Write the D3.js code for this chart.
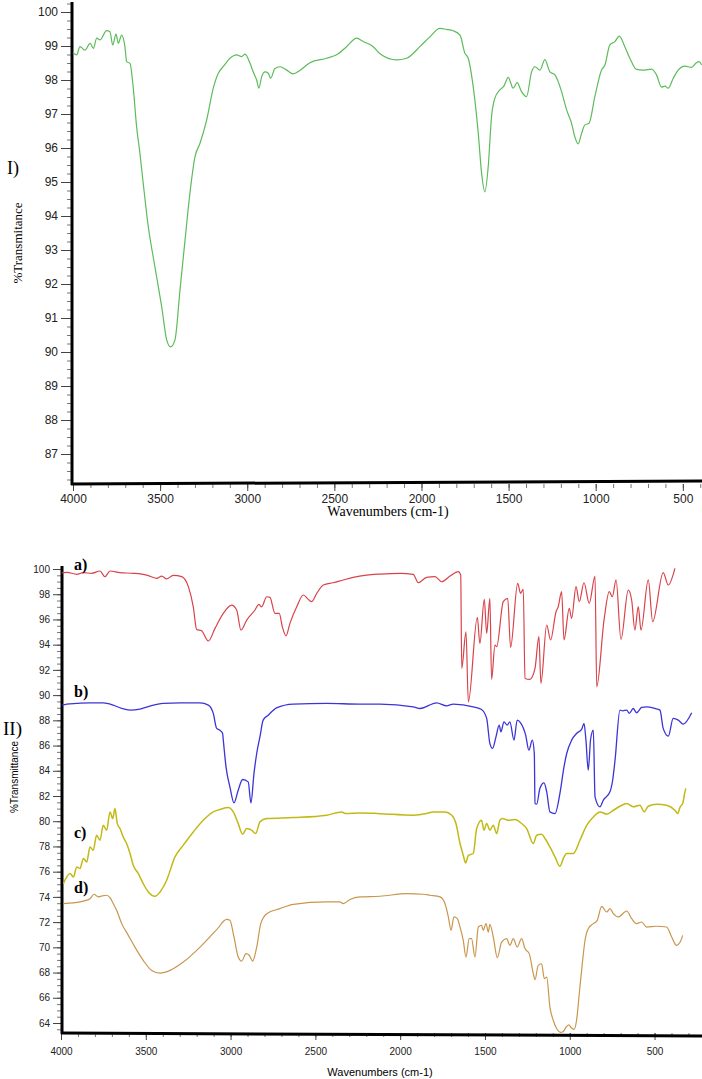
<!DOCTYPE html>
<html>
<head>
<meta charset="utf-8">
<script src="https://cdn.jsdelivr.net/npm/d3@7"></script>
<style>
  body { margin: 0; background: #fff; }
  svg { display: block; }
  .tick text { font-family: "Liberation Sans", Arial, sans-serif; }
</style>
</head>
<body>
<div id="chart"></div>
<script>
// panel I (green spectrum) : [wavenumber, %T]
var specI = [[4000,98.8],[3979,98.74],[3960,98.98],[3931,98.88],[3902,99.08],[3883,98.93],[3864,99.23],[3845,99.18],[3807,99.45],[3788,99.42],[3772,99.03],[3753,99.35],[3740,99.08],[3721,99.32],[3702,98.98],[3692,98.54],[3673,98.49],[3654,97.76],[3635,96.63],[3616,95.85],[3597,94.96],[3568,93.69],[3530,92.51],[3491,91.33],[3462,90.35],[3440,90.15],[3415,90.35],[3386,91.82],[3357,93.29],[3329,94.67],[3300,95.74],[3271,96.14],[3233,96.82],[3195,97.76],[3166,98.2],[3138,98.39],[3099,98.64],[3061,98.74],[3032,98.69],[3013,98.76],[2984,98.49],[2966,98.24],[2946,98.0],[2933,97.76],[2917,98.1],[2898,98.24],[2879,98.2],[2866,98.05],[2841,98.34],[2812,98.39],[2774,98.29],[2736,98.18],[2698,98.28],[2640,98.51],[2544,98.64],[2487,98.74],[2430,98.98],[2372,99.23],[2334,99.13],[2277,98.98],[2238,98.77],[2143,98.59],[2085,98.64],[2009,98.98],[1952,99.27],[1894,99.52],[1856,99.49],[1818,99.45],[1779,99.32],[1751,98.79],[1732,98.64],[1703,97.8],[1674,96.43],[1655,95.26],[1636,94.71],[1617,95.45],[1598,96.92],[1579,97.46],[1550,97.71],[1527,97.82],[1502,98.08],[1474,97.76],[1451,97.92],[1426,97.66],[1397,97.51],[1368,98.24],[1349,98.39],[1320,98.29],[1292,98.6],[1263,98.24],[1234,98.15],[1196,97.66],[1167,97.12],[1139,96.73],[1120,96.33],[1101,96.12],[1081,96.43],[1062,96.68],[1038,96.73],[1005,97.51],[967,98.29],[947,98.44],[919,99.03],[890,99.13],[865,99.29],[833,98.98],[804,98.64],[766,98.31],[728,98.29],[680,98.32],[651,98.15],[622,97.79],[603,97.82],[584,97.76],[555,98.05],[527,98.29],[489,98.41],[450,98.37],[422,98.51],[407,98.54],[391,98.44]];

// panel II spectra
var specA = [[3995,99.7],[3966,99.74],[3907,99.58],[3868,99.71],[3819,99.66],[3770,99.84],[3741,99.39],[3711,99.84],[3652,99.71],[3574,99.66],[3495,99.52],[3436,99.26],[3406,99.44],[3377,99.21],[3338,99.5],[3288,99.39],[3249,98.6],[3220,97.0],[3200,95.21],[3171,95.1],[3131,94.29],[3092,95.29],[3043,96.48],[2994,97.14],[2964,96.75],[2939,95.16],[2905,95.95],[2856,96.75],[2833,97.2],[2817,97.0],[2787,97.8],[2768,97.75],[2738,96.48],[2713,96.48],[2695,95.42],[2673,94.7],[2650,95.69],[2610,97.0],[2571,97.94],[2542,97.59],[2522,97.41],[2492,98.07],[2453,98.73],[2395,98.91],[2336,99.13],[2277,99.34],[2198,99.52],[2119,99.6],[2001,99.66],[1923,99.58],[1893,98.91],[1844,99.34],[1795,99.39],[1755,98.99],[1706,99.44],[1657,99.79],[1643,99.52],[1637,92.12],[1612,95.02],[1598,89.47],[1545,96.16],[1530,94.1],[1504,97.59],[1490,94.9],[1471,97.67],[1461,91.25],[1441,93.97],[1431,93.84],[1392,97.41],[1366,97.67],[1349,93.79],[1307,98.86],[1290,98.07],[1274,98.39],[1264,91.32],[1235,91.25],[1205,92.12],[1182,94.63],[1170,90.93],[1136,95.56],[1113,94.37],[1081,96.61],[1068,97.01],[1048,98.2],[1034,94.37],[1003,96.88],[989,96.09],[963,98.6],[944,97.41],[916,98.91],[885,97.28],[851,99.44],[841,90.66],[798,95.95],[767,98.2],[749,97.8],[727,99.13],[698,94.42],[655,98.33],[635,97.54],[616,95.16],[596,97.01],[580,95.16],[537,99.13],[511,95.82],[449,99.71],[419,98.73],[380,100.05]];

var specB = [[3995,89.2],[3966,89.29],[3907,89.34],[3829,89.39],[3751,89.39],[3692,89.21],[3642,88.94],[3593,88.81],[3534,88.89],[3475,89.13],[3397,89.34],[3298,89.39],[3180,89.39],[3131,89.21],[3102,88.55],[3082,87.36],[3063,87.22],[3047,86.96],[3043,86.43],[3027,84.31],[3004,82.72],[2980,81.45],[2955,82.46],[2929,83.31],[2896,83.12],[2880,81.45],[2862,83.79],[2846,85.37],[2831,86.43],[2827,86.69],[2808,88.02],[2778,88.41],[2729,88.99],[2630,89.29],[2433,89.34],[2237,89.29],[2119,89.29],[1923,89.07],[1883,88.94],[1785,89.39],[1726,89.15],[1687,89.29],[1569,89.07],[1520,88.86],[1490,88.15],[1471,86.17],[1455,85.77],[1435,86.69],[1416,87.62],[1406,87.09],[1388,87.88],[1369,87.62],[1353,87.88],[1329,86.43],[1310,88.02],[1290,87.8],[1260,86.83],[1241,85.63],[1221,86.43],[1209,85.37],[1205,81.4],[1195,81.35],[1176,82.6],[1152,83.04],[1136,82.33],[1117,80.74],[1087,80.61],[1058,82.2],[1034,84.31],[1018,85.37],[989,86.43],[960,86.96],[930,87.28],[916,87.75],[905,86.5],[891,84.05],[877,86.5],[861,87.22],[851,81.93],[822,81.14],[802,81.67],[763,82.33],[747,83.25],[733,84.84],[704,88.81],[688,88.75],[664,88.81],[649,88.55],[626,88.94],[606,88.6],[576,89.02],[547,89.07],[498,88.94],[468,88.81],[449,87.36],[419,86.75],[390,88.15],[360,88.02],[331,87.7],[281,88.6]];

var specC = [[3986,75.05],[3947,75.85],[3927,75.58],[3907,76.37],[3888,76.25],[3868,77.04],[3848,76.77],[3829,77.96],[3810,77.7],[3790,78.89],[3770,78.49],[3751,79.68],[3731,79.29],[3711,80.74],[3695,80.21],[3682,81.0],[3668,79.81],[3652,79.42],[3633,78.75],[3613,78.23],[3593,77.44],[3574,76.51],[3544,75.85],[3515,75.05],[3485,74.39],[3446,74.05],[3416,74.39],[3377,75.32],[3328,77.17],[3279,78.1],[3220,79.15],[3161,80.08],[3102,80.74],[3063,80.93],[3014,81.09],[2984,80.74],[2955,79.81],[2929,78.97],[2905,79.42],[2876,79.29],[2852,79.02],[2827,79.95],[2787,80.21],[2630,80.29],[2433,80.48],[2345,80.74],[2325,80.61],[2237,80.66],[2119,80.6],[1923,80.48],[1844,80.61],[1805,80.74],[1736,80.74],[1696,80.48],[1671,79.82],[1647,78.23],[1628,77.3],[1614,76.69],[1598,77.3],[1569,77.44],[1549,79.42],[1520,80.08],[1506,79.29],[1490,79.82],[1471,79.29],[1451,79.68],[1431,79.02],[1412,80.08],[1396,80.21],[1363,80.08],[1323,80.13],[1284,79.82],[1254,79.42],[1215,78.23],[1195,78.89],[1166,78.97],[1146,78.63],[1117,77.96],[1087,77.17],[1058,76.43],[1038,77.04],[1018,77.44],[979,77.44],[940,78.49],[900,79.68],[861,80.34],[822,80.74],[782,80.56],[743,80.87],[704,81.19],[664,81.4],[626,81.14],[586,81.27],[561,80.74],[537,81.19],[488,81.35],[429,81.27],[380,80.87],[364,80.61],[349,81.14],[334,81.4],[321,82.33],[315,82.6]];

var specD = [[3986,73.47],[3927,73.52],[3868,73.67],[3829,73.86],[3805,74.21],[3780,74.0],[3760,74.07],[3731,74.13],[3711,73.94],[3692,73.47],[3672,72.94],[3642,71.88],[3603,70.95],[3564,70.02],[3515,68.97],[3465,68.17],[3416,67.96],[3357,68.17],[3279,68.83],[3180,70.02],[3082,71.4],[3023,72.22],[3004,72.14],[2980,70.82],[2955,69.23],[2935,68.91],[2909,69.5],[2890,69.37],[2870,68.91],[2846,70.02],[2822,71.88],[2787,72.67],[2709,73.07],[2630,73.41],[2433,73.6],[2355,73.6],[2336,73.47],[2296,73.79],[2237,74.0],[2119,74.05],[1962,74.26],[1864,74.21],[1824,74.13],[1765,74.0],[1736,73.47],[1716,72.41],[1700,71.35],[1683,72.41],[1663,72.28],[1647,71.61],[1628,70.56],[1612,69.23],[1593,70.69],[1579,70.69],[1559,69.23],[1539,71.61],[1520,71.75],[1510,71.35],[1494,71.88],[1480,71.21],[1471,71.83],[1451,70.82],[1427,69.18],[1402,70.42],[1372,70.69],[1353,70.16],[1333,70.69],[1310,70.02],[1284,70.69],[1264,69.9],[1239,69.5],[1215,67.91],[1205,67.43],[1186,68.57],[1166,68.7],[1150,67.52],[1136,67.64],[1117,65.26],[1097,64.2],[1075,63.5],[1055,63.25],[1040,63.3],[1020,63.7],[1005,63.85],[990,63.6],[975,63.5],[960,64.2],[944,66.32],[924,68.97],[910,70.56],[891,71.48],[861,71.88],[838,72.14],[812,73.25],[782,72.8],[763,73.07],[743,72.67],[714,72.41],[664,72.88],[635,72.28],[606,71.88],[576,72.01],[547,71.61],[488,71.67],[429,71.61],[399,70.82],[370,70.16],[349,70.42],[334,70.95]];

var xTicks = [4000, 3500, 3000, 2500, 2000, 1500, 1000, 500];
var yTicksI = [100, 99, 98, 97, 96, 95, 94, 93, 92, 91, 90, 89, 88, 87];
var yTicksII = [100, 98, 96, 94, 92, 90, 88, 86, 84, 82, 80, 78, 76, 74, 72, 70, 68, 66, 64];
var seriesII = [
  {name: "a)", data: specA, color: "#d8434a", width: 1.2, labelY: 570},
  {name: "b)", data: specB, color: "#3b34d6", width: 1.3, labelY: 697},
  {name: "c)", data: specC, color: "#c2b916", width: 1.5, labelY: 838},
  {name: "d)", data: specD, color: "#c9964e", width: 1.2, labelY: 893}
];

var width = 702, height = 1079;
var svg = d3.select("#chart").append("svg")
  .attr("width", width)
  .attr("height", height);

var serif = "'Liberation Serif', 'Times New Roman', serif";
var sans = "'Liberation Sans', Arial, sans-serif";
var fmt = d3.format("d");

// ---------- panel I ----------
var xI = d3.scaleLinear().domain([4000, 390]).range([73, 702]);
var yI = d3.scaleLinear().domain([100, 87]).range([12, 454]);
var baseI = 484;

var gI = svg.append("g");

// minor ticks
gI.append("g")
  .attr("transform", "translate(72,0)")
  .call(d3.axisLeft(yI).tickValues(d3.range(86.25, 100.3, 0.25)).tickSize(5).tickFormat(""))
  .call(g => g.select(".domain").remove())
  .call(g => g.selectAll("line").attr("stroke", "#555").attr("stroke-width", 0.8));
gI.append("g")
  .attr("transform", "translate(72,0)")
  .call(d3.axisLeft(yI).tickValues(yTicksI).tickSize(11).tickPadding(3).tickFormat(fmt))
  .call(g => g.select(".domain").remove())
  .call(g => g.selectAll("line").attr("stroke", "#444"))
  .call(g => g.selectAll("text").attr("font-size", 12).attr("fill", "#222"));

gI.append("g")
  .attr("transform", "translate(0," + baseI + ")")
  .call(d3.axisBottom(xI).tickValues(d3.range(4000, 390, -100)).tickSize(4).tickFormat(""))
  .call(g => g.select(".domain").remove())
  .call(g => g.selectAll("line").attr("stroke", "#555").attr("stroke-width", 0.8));
gI.append("g")
  .attr("transform", "translate(0," + baseI + ")")
  .call(d3.axisBottom(xI).tickValues(xTicks).tickSize(7).tickPadding(3).tickFormat(fmt))
  .call(g => g.select(".domain").remove())
  .call(g => g.selectAll("line").attr("stroke", "#444"))
  .call(g => g.selectAll("text").attr("font-size", 12).attr("fill", "#222"));

gI.append("line").attr("x1", 72).attr("x2", 72).attr("y1", 2).attr("y2", baseI + 1)
  .attr("stroke", "#000").attr("stroke-width", 3);
gI.append("line").attr("x1", 71).attr("x2", 702).attr("y1", baseI).attr("y2", baseI - 3)
  .attr("stroke", "#000").attr("stroke-width", 3);

var lineI = d3.line()
  .x(d => xI(d[0]))
  .y(d => yI(d[1]))
  .curve(d3.curveMonotoneX);

gI.append("path")
  .datum(specI)
  .attr("d", lineI)
  .attr("fill", "none")
  .attr("stroke", "#5cbc5a")
  .attr("stroke-width", 1.2);

gI.append("text").attr("x", 7).attr("y", 174)
  .attr("font-family", serif).attr("font-size", 18).text("I)");
gI.append("text")
  .attr("transform", "translate(22,243) rotate(-90)")
  .attr("text-anchor", "middle")
  .attr("font-family", serif).attr("font-size", 13)
  .text("%Transmitance");
gI.append("text").attr("x", 388).attr("y", 516)
  .attr("text-anchor", "middle")
  .attr("font-family", serif).attr("font-size", 14)
  .text("Wavenumbers (cm-1)");

// ---------- panel II ----------
var xII = d3.scaleLinear().domain([4000, 232]).range([61, 700]);
var yII = d3.scaleLinear().domain([100, 64]).range([569, 1023]);
var baseII = 1033;

var gII = svg.append("g");

gII.append("g")
  .attr("transform", "translate(62,0)")
  .call(d3.axisLeft(yII).tickValues(d3.range(63.5, 100.2, 0.5)).tickSize(5).tickFormat(""))
  .call(g => g.select(".domain").remove())
  .call(g => g.selectAll("line").attr("stroke", "#555").attr("stroke-width", 0.8));
gII.append("g")
  .attr("transform", "translate(62,0)")
  .call(d3.axisLeft(yII).tickValues(yTicksII).tickSize(9).tickPadding(3).tickFormat(fmt))
  .call(g => g.select(".domain").remove())
  .call(g => g.selectAll("line").attr("stroke", "#444"))
  .call(g => g.selectAll("text").attr("font-size", 10).attr("fill", "#222"));

gII.append("g")
  .attr("transform", "translate(0," + baseII + ")")
  .call(d3.axisBottom(xII).tickValues(d3.range(4000, 240, -100)).tickSize(4).tickFormat(""))
  .call(g => g.select(".domain").remove())
  .call(g => g.selectAll("line").attr("stroke", "#555").attr("stroke-width", 0.8));
gII.append("g")
  .attr("transform", "translate(0," + baseII + ")")
  .call(d3.axisBottom(xII).tickValues(xTicks).tickSize(7).tickPadding(8).tickFormat(fmt))
  .call(g => g.select(".domain").remove())
  .call(g => g.selectAll("line").attr("stroke", "#444"))
  .call(g => g.selectAll("text").attr("font-size", 10).attr("fill", "#222"));

gII.append("line").attr("x1", 62).attr("x2", 62).attr("y1", 566).attr("y2", baseII + 1)
  .attr("stroke", "#000").attr("stroke-width", 3);
gII.append("line").attr("x1", 61).attr("x2", 702).attr("y1", baseII).attr("y2", baseII + 3)
  .attr("stroke", "#000").attr("stroke-width", 3);

var lineII = d3.line()
  .x(d => xII(d[0]))
  .y(d => yII(d[1]))
  .curve(d3.curveMonotoneX);

gII.selectAll("path.spec")
  .data(seriesII)
  .enter()
  .append("path")
  .attr("class", "spec")
  .attr("d", d => lineII(d.data))
  .attr("fill", "none")
  .attr("stroke", d => d.color)
  .attr("stroke-width", d => d.width);

gII.selectAll("text.lbl")
  .data(seriesII)
  .enter()
  .append("text")
  .attr("class", "lbl")
  .attr("x", 74)
  .attr("y", d => d.labelY)
  .attr("font-family", serif)
  .attr("font-weight", "bold")
  .attr("font-size", 16)
  .text(d => d.name);

gII.append("text").attr("x", 3).attr("y", 735)
  .attr("font-family", serif).attr("font-size", 19).text("II)");
gII.append("text")
  .attr("transform", "translate(18,777) rotate(-90)")
  .attr("text-anchor", "middle")
  .attr("font-family", sans).attr("font-size", 10)
  .text("%Transmittance");
gII.append("text").attr("x", 380).attr("y", 1076)
  .attr("text-anchor", "middle")
  .attr("font-family", sans).attr("font-size", 11)
  .text("Wavenumbers (cm-1)");
</script>
</body>
</html>
